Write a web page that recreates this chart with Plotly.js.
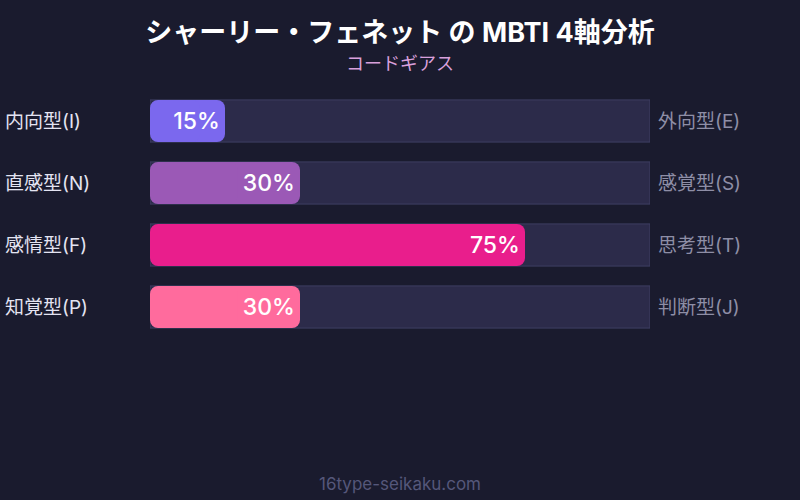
<!DOCTYPE html>
<html><head><meta charset="utf-8">
<script src="https://cdn.plot.ly/plotly-3.0.1.min.js"></script>
<style>html,body{margin:0;padding:0;background:#1a1b2e;}#chart{width:800px;height:500px;}</style>
</head><body><div id="chart"></div>
<script>
const leftLabels = ["内向型(I)", "直感型(N)", "感情型(F)", "知覚型(P)"];
const rightLabels = ["外向型(E)", "感覚型(S)", "思考型(T)", "判断型(J)"];
const values = [15, 30, 75, 30];
const barColors = ["#7b68ee", "#9b59b6", "#e91e8c", "#ff6b9d"];
const trackMax = [100, 100, 100, 100];
const titleText = "シャーリー・フェネット の MBTI 4軸分析";
const subtitleText = "コードギアス";
const footerText = "16type-seikaku.com";

const idx = values.map((_, i) => i);
// two overlapping halves of each fill so that both ends get rounded corners
const ov = 2.5;
const rightBase = values.map(v => v / 2 - ov);
const rightLen = values.map(v => v / 2 + ov);
const leftBase = values.map(v => v / 2 + ov);
const leftLen = values.map(v => -(v / 2 + ov));
const font = "Inter, 'Noto Sans CJK JP', sans-serif";
const W = 0.68;

const traces = [
  {type: "bar", orientation: "h", x: trackMax, y: idx, width: W, xaxis: "x", yaxis: "y",
   marker: {color: "#2c2b4a", line: {color: "#3e3e62", width: 1}},
   hoverinfo: "skip", showlegend: false},
  {type: "bar", orientation: "h", x: leftLen, base: leftBase, y: idx, width: W, xaxis: "x3", yaxis: "y3",
   marker: {color: barColors, cornerradius: 8, line: {width: 0}},
   hoverinfo: "skip", showlegend: false},
  {type: "bar", orientation: "h", x: rightLen, base: rightBase, y: idx, width: W, xaxis: "x2", yaxis: "y2",
   marker: {color: barColors, cornerradius: 8, line: {width: 0}},
   hoverinfo: "skip", showlegend: false},
  {type: "bar", orientation: "h", x: values, y: idx, width: W, xaxis: "x4", yaxis: "y4",
   marker: {color: "rgba(0,0,0,0)", cornerradius: 8, line: {width: 0}},
   texttemplate: "%{x}%\u200a", textposition: "inside", insidetextanchor: "end",
   textfont: {color: "#ffffff", size: 23, family: font, weight: 500},
   constraintext: "none", hoverinfo: "skip", showlegend: false}
];

const annotations = [];
idx.forEach(i => {
  annotations.push({xref: "paper", yref: "y", x: 3/800, y: i, xanchor: "left", yanchor: "middle",
    text: leftLabels[i], showarrow: false, font: {color: "#e4e4f2", size: 19, family: font}});
  annotations.push({xref: "paper", yref: "y", x: 656/800, y: i, xanchor: "left", yanchor: "middle",
    text: rightLabels[i], showarrow: false, font: {color: "#8e8ea6", size: 19, family: font}});
});
annotations.push({xref: "paper", yref: "paper", x: 0.5, y: 1 - 63/500, xanchor: "center", yanchor: "middle",
  text: subtitleText, showarrow: false, font: {color: "#d9a0dc", size: 18, family: font}});
annotations.push({xref: "paper", yref: "paper", x: 0.5, y: 1 - 484/500, xanchor: "center", yanchor: "middle",
  text: footerText, showarrow: false, font: {color: "#55577a", size: 17, family: font}});

const xr = [0, 100];
const yr = [(500 - 121)/62, -121/62];
const xd = [150/800, 650/800];
const ax = (extra) => Object.assign({domain: xd, range: xr, visible: false, fixedrange: true}, extra);
const ay = (extra) => Object.assign({domain: [0, 1], range: yr, visible: false, fixedrange: true}, extra);

const layout = {
  width: 800, height: 500,
  paper_bgcolor: "#1a1b2e", plot_bgcolor: "rgba(0,0,0,0)",
  margin: {l: 0, r: 0, t: 0, b: 0},
  barmode: "group",
  title: {text: "<b>" + titleText + "</b>", x: 0.5, xanchor: "center", y: 1 - 33/500, yanchor: "middle",
    font: {color: "#ffffff", size: 27, family: font}},
  xaxis: ax({}),
  yaxis: ay({}),
  xaxis2: ax({anchor: "y2"}),
  yaxis2: ay({anchor: "x2", overlaying: "y"}),
  xaxis3: ax({anchor: "y3"}),
  yaxis3: ay({anchor: "x3", overlaying: "y"}),
  xaxis4: ax({anchor: "y4"}),
  yaxis4: ay({anchor: "x4", overlaying: "y"}),
  annotations: annotations,
  showlegend: false
};

Plotly.newPlot("chart", traces, layout, {displayModeBar: false, staticPlot: true});
</script></body></html>
